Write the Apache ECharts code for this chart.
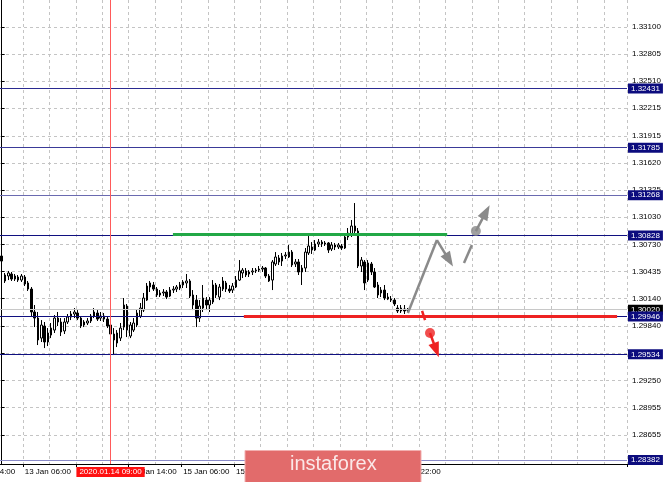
<!DOCTYPE html>
<html><head><meta charset="utf-8">
<script src="https://cdn.jsdelivr.net/npm/echarts@6/dist/echarts.min.js"></script>
<style>html,body{margin:0;padding:0;background:#fff}#c{width:665px;height:482px}</style>
</head><body><div id="c"></div>
<script>
// ---------- data ----------
const SLOT_COUNT = 190;               // hourly slots visible on the chart (incl. empty future space)
const Y_MIN = 1.28339;
const Y_MAX = 1.33394;
// [open, close, low, high]
const CANDLES = [
[1.30605,1.30550,1.30529,1.30638],[1.30333,1.30398,1.30311,1.30420],[1.30387,1.30420,1.30343,1.30442],
[1.30409,1.30354,1.30333,1.30431],[1.30354,1.30387,1.30333,1.30409],[1.30376,1.30343,1.30322,1.30398],
[1.30343,1.30387,1.30322,1.30409],[1.30376,1.30300,1.30278,1.30398],[1.30311,1.30245,1.30224,1.30333],
[1.30245,1.29995,1.29951,1.30267],[1.29995,1.29929,1.29831,1.30071],[1.29929,1.29690,1.29635,1.29995],
[1.29711,1.29853,1.29668,1.29907],[1.29842,1.29668,1.29602,1.29886],[1.29668,1.29766,1.29624,1.29820],
[1.29744,1.29820,1.29711,1.29875],[1.29798,1.29929,1.29766,1.29962],[1.29929,1.29886,1.29842,1.29995],
[1.29886,1.29777,1.29733,1.29929],[1.29788,1.29886,1.29755,1.29929],[1.29886,1.29940,1.29864,1.29973],
[1.29940,1.29973,1.29907,1.30006],[1.29973,1.29995,1.29929,1.30038],[1.29984,1.29929,1.29907,1.30016],
[1.29929,1.29842,1.29820,1.29951],[1.29853,1.29886,1.29831,1.29907],[1.29875,1.29897,1.29853,1.29929],
[1.29897,1.29951,1.29875,1.29973],[1.29951,1.29995,1.29929,1.30038],[1.29984,1.29918,1.29897,1.30016],
[1.29929,1.29951,1.29897,1.29995],[1.29951,1.29918,1.29886,1.29984],[1.29918,1.29842,1.29820,1.29940],
[1.29853,1.29755,1.29733,1.29886],[1.29755,1.29690,1.29526,1.29820],[1.29657,1.29766,1.29613,1.29798],
[1.29711,1.29820,1.29679,1.29875],[1.29831,1.30071,1.29798,1.30147],[1.30060,1.29798,1.29722,1.30082],
[1.29733,1.29853,1.29711,1.29886],[1.29798,1.29875,1.29777,1.29929],[1.29853,1.29984,1.29831,1.30027],
[1.29951,1.30038,1.29929,1.30093],[1.30016,1.30147,1.29995,1.30202],[1.30125,1.30278,1.30115,1.30311],
[1.30267,1.30311,1.30213,1.30333],[1.30289,1.30245,1.30224,1.30322],[1.30245,1.30180,1.30158,1.30267],
[1.30180,1.30202,1.30158,1.30234],[1.30202,1.30213,1.30169,1.30245],[1.30213,1.30158,1.30136,1.30234],
[1.30169,1.30234,1.30158,1.30267],[1.30234,1.30245,1.30202,1.30278],[1.30245,1.30267,1.30213,1.30289],
[1.30256,1.30289,1.30234,1.30322],[1.30289,1.30322,1.30256,1.30343],[1.30311,1.30333,1.30256,1.30409],
[1.30333,1.30169,1.30147,1.30354],[1.30180,1.30071,1.30016,1.30234],[1.30125,1.29929,1.29831,1.30180],
[1.29929,1.30060,1.29886,1.30125],[1.30038,1.30147,1.29995,1.30289],[1.30125,1.30071,1.30016,1.30158],
[1.30071,1.30125,1.29995,1.30158],[1.30104,1.30289,1.30082,1.30343],[1.30289,1.30180,1.30147,1.30311],
[1.30158,1.30267,1.30125,1.30300],[1.30245,1.30333,1.30224,1.30376],[1.30311,1.30245,1.30213,1.30333],
[1.30245,1.30224,1.30202,1.30289],[1.30234,1.30278,1.30202,1.30311],[1.30267,1.30343,1.30256,1.30387],
[1.30343,1.30442,1.30333,1.30561],[1.30420,1.30452,1.30365,1.30474],[1.30442,1.30398,1.30376,1.30474],
[1.30409,1.30431,1.30376,1.30452],[1.30431,1.30442,1.30398,1.30474],[1.30442,1.30452,1.30420,1.30474],
[1.30452,1.30463,1.30431,1.30496],[1.30463,1.30474,1.30431,1.30496],[1.30474,1.30387,1.30365,1.30485],
[1.30387,1.30333,1.30322,1.30409],[1.30343,1.30540,1.30234,1.30561],[1.30518,1.30594,1.30496,1.30648],
[1.30583,1.30540,1.30507,1.30616],[1.30550,1.30605,1.30496,1.30638],[1.30605,1.30616,1.30572,1.30648],
[1.30594,1.30648,1.30583,1.30725],[1.30648,1.30507,1.30485,1.30670],[1.30518,1.30540,1.30485,1.30572],
[1.30540,1.30431,1.30398,1.30572],[1.30431,1.30474,1.30289,1.30507],[1.30474,1.30648,1.30431,1.30692],
[1.30638,1.30714,1.30616,1.30834],[1.30703,1.30670,1.30627,1.30757],[1.30670,1.30736,1.30659,1.30779],
[1.30736,1.30757,1.30703,1.30790],[1.30757,1.30736,1.30703,1.30779],[1.30736,1.30747,1.30714,1.30768],
[1.30747,1.30670,1.30638,1.30757],[1.30681,1.30725,1.30659,1.30757],[1.30725,1.30703,1.30670,1.30747],
[1.30703,1.30725,1.30681,1.30747],[1.30714,1.30692,1.30670,1.30736],[1.30692,1.30812,1.30681,1.30855],
[1.30812,1.30855,1.30779,1.30910],[1.30844,1.30932,1.30812,1.30997],[1.30932,1.30877,1.30855,1.31182],
[1.30877,1.30496,1.30474,1.30910],[1.30496,1.30561,1.30431,1.30594],[1.30540,1.30311,1.30234,1.30561],
[1.30343,1.30529,1.30322,1.30561],[1.30518,1.30431,1.30398,1.30540],[1.30431,1.30267,1.30256,1.30474],
[1.30289,1.30180,1.30147,1.30322],[1.30202,1.30234,1.30158,1.30267],[1.30234,1.30147,1.30125,1.30289],
[1.30158,1.30136,1.30125,1.30202],[1.30136,1.30125,1.30104,1.30169],[1.30125,1.30082,1.30060,1.30147],
[1.30038,1.30006,1.29984,1.30071],[1.30006,1.30038,1.29984,1.30071],[1.30027,1.30006,1.29973,1.30071],
[1.30016,1.30020,1.29995,1.30038]
];
const Y_TICKS = [1.33100,1.32805,1.32510,1.32215,1.31915,1.31620,1.31325,1.31030,1.30730,1.30435,1.30140,1.29840,1.29545,1.29250,1.28955,1.28655];
const X_TICK_INDEX  = [7,23,39,55,71,87,103,119];
const X_TICK_LABELS = ["13 Jan 06:00","13 Jan 22:00","14 Jan 14:00","15 Jan 06:00","15 Jan 22:00","16 Jan 14:00","17 Jan 06:00","17 Jan 22:00"];
const X_GRID_START = 7, X_GRID_STEP = 8;
const OFFSCREEN_LABEL = "12 Jan 14:00";
const LEVELS = [1.32431,1.31785,1.31268,1.30828,1.29534,1.28382,1.29946];
const BID = 1.30020;
const CURSOR_INDEX = 33;
const CURSOR_LABEL = "2020.01.14 09:00";
// annotation drawings in data units [slot index, price]
const GREEN_SEGMENT = [[51.9,1.30839],[135.0,1.30839]];
const RED_SEGMENT   = [[73.4,1.29946],[186.5,1.29946]];
const GRAY_PATH     = [[123.1,1.29984],[131.9,1.30779]];
const GRAY_PATH_ARROW = [[131.9,1.30779],[135.6,1.30560]];
const GRAY_DASH     = [[140.1,1.30529],[142.5,1.30725]];
const GRAY_DOT      = [143.7,1.30877];
const GRAY_UP_ARROW = [[143.7,1.30877],[146.8,1.31085]];
const RED_DASH      = [[127.4,1.30006],[128.3,1.29907]];
const RED_DOT       = [129.8,1.29766];
const RED_DOWN_ARROW= [[129.8,1.29766],[131.7,1.29580]];

// ---------- styles ----------
const FONT = 'Liberation Sans';
const LEVEL_STYLE = [
  { color: '#2a2a90' }, { color: '#3a3a98' }, { color: '#6a6ab0' }, { color: '#101080' },
  { color: '#101080' }, { color: '#8a8ac8' }, { color: '#101080' }
];
const GRAY = '#8a8a8a', RED = '#ee2222', GREEN = '#22a846';

const cats = [];
for (let i = 0; i < SLOT_COUNT; i++) cats.push(String(i));
const isTick = i => X_TICK_INDEX.indexOf(i) >= 0;

function levelLine(v, color, bg) {
  return [
    { coord: [-0.5, v], lineStyle: { color: color, width: 1, type: 'solid' },
      label: { show: true, position: 'end', distance: 1, formatter: v.toFixed(5),
        backgroundColor: bg, color: '#ffffff', fontSize: 8, fontFamily: FONT, padding: [1, 3, 1, 3] } },
    { coord: [SLOT_COUNT - 0.5, v] }
  ];
}
const bidLines = [levelLine(BID, '#c8c8c8', '#000000')];
const levelLines = LEVELS.map((v, k) => levelLine(v, LEVEL_STYLE[k].color, '#0c0c7e'));

function arrowML(seg, color) {
  return { silent: true, animation: false, symbol: ['none', 'triangle'], symbolSize: [11, 15],
    label: { show: false }, lineStyle: { color: color, width: 2.5, type: 'solid' },
    data: [[{ coord: seg[0] }, { coord: seg[1] }]] };
}
function seg(data, color, width, z, extra) {
  return Object.assign({ type: 'line', xAxisIndex: 1, data: data, symbol: 'none', z: z, silent: true,
    lineStyle: { color: color, width: width } }, extra || {});
}

const chart = echarts.init(document.getElementById('c'), null, { renderer: 'canvas' });
chart.setOption({
  animation: false,
  backgroundColor: '#ffffff',
  grid: { left: 0, top: 0, right: 38, bottom: 18, containLabel: false },
  xAxis: [{
    type: 'category', data: cats, boundaryGap: true,
    axisLine: { show: true, onZero: false, lineStyle: { color: '#000', width: 1 } },
    axisTick: { show: true, interval: (i) => isTick(i), length: 3, lineStyle: { color: '#000' } },
    axisLabel: { show: true, interval: (i) => isTick(i), align: 'left', margin: 4,
      formatter: (v, i) => X_TICK_LABELS[X_TICK_INDEX.indexOf(Number(v))] || '',
      color: '#000', fontSize: 8, fontFamily: FONT },
    splitLine: { show: true, interval: (i) => i >= X_GRID_START && (i - X_GRID_START) % X_GRID_STEP === 0,
      lineStyle: { color: '#c4c4c4', type: [3, 3], width: 1 } }
  }, {
    type: 'value', min: -0.5, max: SLOT_COUNT - 0.5, show: false
  }],
  yAxis: {
    type: 'value', position: 'right', min: Y_MIN, max: Y_MAX, scale: true,
    axisLine: { show: true, lineStyle: { color: '#000', width: 1 } },
    axisTick: { show: true, customValues: Y_TICKS, length: 3, lineStyle: { color: '#000' } },
    axisLabel: { show: true, customValues: Y_TICKS, margin: 5, formatter: v => v.toFixed(5),
      color: '#000', fontSize: 8, fontFamily: FONT },
    splitLine: { show: true, lineStyle: { color: '#c4c4c4', type: [3, 3], width: 1 } }
  },
  series: [
    { type: 'line', xAxisIndex: 1, data: [], z: 1, silent: true,
      markLine: { silent: true, animation: false, symbol: 'none', data: bidLines } },
    { type: 'line', xAxisIndex: 1, data: [], z: 2, silent: true,
      markLine: { silent: true, animation: false, symbol: 'none', data: levelLines } },
    { type: 'candlestick', xAxisIndex: 0, data: CANDLES, barWidth: 2, z: 3,
      itemStyle: { color: '#ffffff', color0: '#000000', borderColor: '#000000', borderColor0: '#000000', borderWidth: 1 },
      markLine: { silent: true, animation: false, symbol: 'none', data: [
        { xAxis: CURSOR_INDEX, lineStyle: { color: '#ff5a5a', width: 1, type: 'solid' },
          label: { show: true, position: 'start', distance: 3, formatter: CURSOR_LABEL,
            backgroundColor: '#ff1010', color: '#ffffff', fontSize: 8, fontFamily: FONT, padding: [1, 3, 1, 3] } }
      ] } },
    seg(GREEN_SEGMENT, GREEN, 3, 6),
    seg(RED_SEGMENT, RED, 3, 6),
    seg(GRAY_PATH, GRAY, 2.5, 7, { markLine: arrowML(GRAY_PATH_ARROW, GRAY) }),
    seg(GRAY_DASH, GRAY, 2.5, 7, { markLine: arrowML(GRAY_UP_ARROW, GRAY) }),
    seg(RED_DASH, RED, 2.5, 7, { markLine: arrowML(RED_DOWN_ARROW, RED) }),
    { type: 'scatter', xAxisIndex: 1, data: [GRAY_DOT], symbolSize: 10, z: 8, silent: true, itemStyle: { color: GRAY } },
    { type: 'scatter', xAxisIndex: 1, data: [RED_DOT], symbolSize: 10, z: 8, silent: true, itemStyle: { color: RED } }
  ],
  graphic: [
    { type: 'text', z: 50, left: -31, top: 468, style: { text: OFFSCREEN_LABEL, fill: '#000', font: '8px ' + FONT } },
    { type: 'rect', z: 100, shape: { x: 245, y: 450.5, width: 176, height: 34 },
      style: { fill: '#e26b6b', stroke: '#f2b0b0', lineWidth: 1 } },
    { type: 'text', z: 101, left: 290, top: 454, style: { text: 'instaforex', fill: '#fbe8e8', font: '20px ' + FONT } }
  ]
});
</script></body></html>
